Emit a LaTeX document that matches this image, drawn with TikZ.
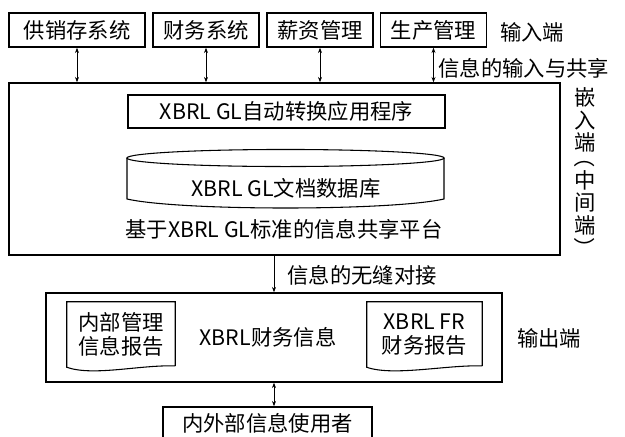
\documentclass[tikz,border=0pt]{standalone}
\usepackage{fontspec}
\setmainfont{Noto Sans CJK SC}
\usetikzlibrary{arrows.meta,positioning}

\newcommand{\vparen}[1]{\rotatebox[origin=c]{-90}{#1}}

\begin{document}
\begin{tikzpicture}[x=0.75pt,y=-0.75pt,
  font=\fontsize{16}{18}\selectfont,
  box/.style={draw,line width=1.1pt,inner sep=0pt},
  link/.style={line width=0.6pt,{Stealth[length=4pt,width=3pt]}-{Stealth[length=4pt,width=3pt]}},
  feed/.style={line width=0.6pt,-{Stealth[length=4pt,width=3pt]}},
  doc/.style={line width=0.8pt}]
  \useasboundingbox (0,0) rectangle (625,436);

  % input layer
  \node[box,minimum width=102pt,minimum height=25.5pt] (gxc) at (77,30) {供销存系统};
  \node[box,minimum width=79.5pt,minimum height=25.5pt] (cw) at (206,30) {财务系统};
  \node[box,minimum width=79.5pt,minimum height=25.5pt] (xz) at (320,30) {薪资管理};
  \node[box,minimum width=79.5pt,minimum height=25.5pt] (sc) at (433.5,30) {生产管理};
  \node (inlabel) at (532,32) {输入端};

  % platform
  \node[box,minimum width=413.25pt,minimum height=129pt] (platform) at (284.5,169) {};
  \node[box,minimum width=237.75pt,minimum height=24.75pt] (conv) at (286.5,111.5) {XBRL GL自动转换应用程序};
  \draw[doc] (285.5,158) ellipse [x radius=118.9pt, y radius=6.4pt];
  \draw[doc] (127,158) -- (127,199) .. controls (180,211) and (391,211) .. (444,199) -- (444,158);
  \node (db) at (286,188) {XBRL GL文档数据库};
  \node (share) at (284,229) {基于XBRL GL标准的信息共享平台};
  \node[align=center,font=\fontsize{16}{17}\selectfont] (midlabel) at (585,173)
    {嵌\\入\\端\\[-6pt]\vparen{（}\\中\\间\\端\\\vparen{）}};

  \foreach \s in {gxc,cw,xz,sc}
    \draw[link] (\s.south) -- (\s.south |- platform.north);
  \node[anchor=west,inner sep=1pt] (inshare) at (437,68) {信息的输入与共享};

  % output layer
  \node[box,minimum width=342pt,minimum height=66.75pt] (outbox) at (274,337.5) {};
  \node[minimum width=81pt,minimum height=48.75pt,inner sep=0pt,align=center] (rep1) at (121,334.5) {内部管理\\信息报告};
  \node[minimum width=86.25pt,minimum height=48.75pt,inner sep=0pt,align=center] (rep2) at (424.5,334.5) {XBRL FR\\财务报告};
  \foreach \r in {rep1,rep2}
    \draw[doc] ([yshift=1pt]\r.south east) -- (\r.north east) -- (\r.north west) -- (\r.south west)
      .. controls ([xshift=20pt,yshift=-7pt]\r.south west) and ([xshift=-26pt,yshift=2pt]\r.south east) .. ([yshift=1pt]\r.south east);
  \node (xbrlinfo) at (268,337) {XBRL财务信息};
  \node (outlabel) at (549,338) {输出端};

  \draw[feed] (outbox.north |- platform.south) -- (outbox.north);
  \node[anchor=west,inner sep=1pt] (seam) at (286,275) {信息的无缝对接};

  % users
  \node[box,minimum width=156.75pt,minimum height=24pt] (users) at (267.5,423) {内外部信息使用者};
  \draw[link] (outbox.south) -- (outbox.south |- users.north);
\end{tikzpicture}
\end{document}
